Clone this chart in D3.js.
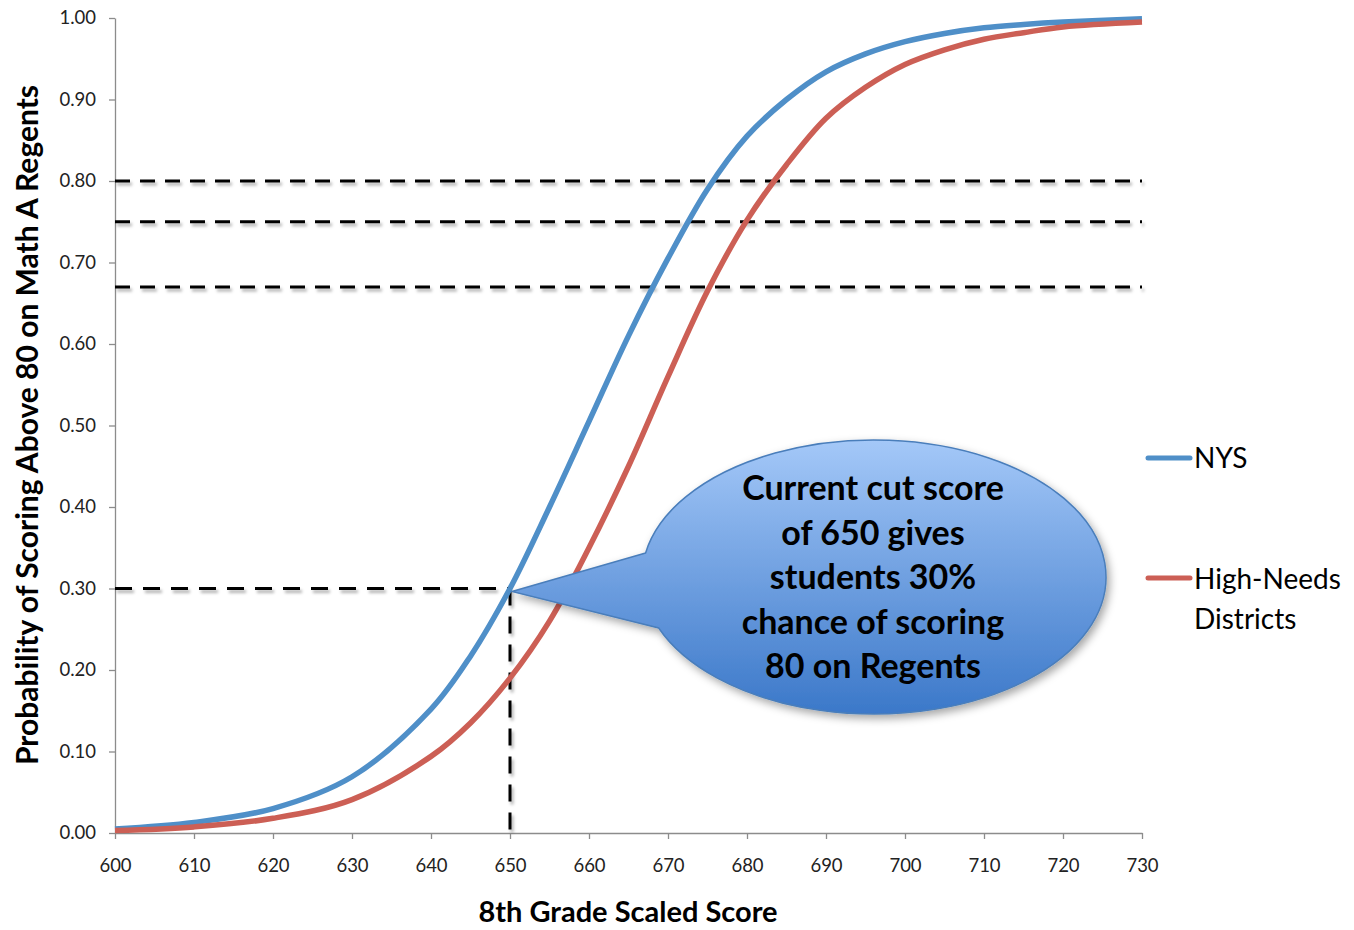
<!DOCTYPE html>
<html>
<head>
<meta charset="utf-8">
<script src="https://cdn.jsdelivr.net/npm/d3@7"></script>
<style>
  body { margin: 0; background: #fff; }
  text { font-family: Lato, "Open Sans", sans-serif; }
</style>
</head>
<body>
<div id="chart"></div>
<script>
// scores on the x axis and the probability read for each curve
const scores = [600, 610, 620, 630, 640, 645, 650, 655, 660, 665, 670, 675, 680, 685, 690, 695, 700, 705, 710, 715, 720, 730];
const nys = [0.005, 0.013, 0.03, 0.069, 0.152, 0.217, 0.30, 0.40, 0.505, 0.61, 0.705, 0.79, 0.855, 0.90, 0.934, 0.956, 0.971, 0.981, 0.988, 0.992, 0.995, 0.999];
const highNeeds = [0.003, 0.0075, 0.018, 0.041, 0.094, 0.135, 0.19, 0.26, 0.35, 0.45, 0.56, 0.665, 0.752, 0.82, 0.877, 0.915, 0.943, 0.961, 0.974, 0.982, 0.989, 0.995];
const refLevels = [0.80, 0.75, 0.67];
const cutScore = 650, cutProb = 0.30;
const xTicks = d3.range(600, 731, 10);
const yTicks = d3.range(0, 1.01, 0.1);
const calloutLines = ["Current cut score", "of 650 gives", "students 30%", "chance of scoring", "80 on Regents"];

const width = 1354, height = 930;
const svg = d3.select("#chart").append("svg")
    .attr("width", width).attr("height", height);

const x = d3.scaleLinear().domain([600, 730]).range([115, 1142]);
const y = d3.scaleLinear().domain([0, 1]).range([833, 18]);

const defs = svg.append("defs");
let shadow = defs.append("filter").attr("id", "dashShadow")
    .attr("x", "-5%").attr("y", "-50%").attr("width", "110%").attr("height", "300%");
shadow.append("feDropShadow").attr("dx", 2).attr("dy", 3).attr("stdDeviation", 1.5)
    .attr("flood-color", "#000").attr("flood-opacity", 0.3);
let bubbleShadow = defs.append("filter").attr("id", "bubbleShadow")
    .attr("x", "-20%").attr("y", "-20%").attr("width", "140%").attr("height", "140%");
bubbleShadow.append("feDropShadow").attr("dx", 3).attr("dy", 4).attr("stdDeviation", 4)
    .attr("flood-color", "#000").attr("flood-opacity", 0.35);
let grad = defs.append("linearGradient").attr("id", "bubbleFill")
    .attr("x1", 0).attr("y1", 0).attr("x2", 0).attr("y2", 1);
grad.append("stop").attr("offset", "0%").attr("stop-color", "#a4c8f8");
grad.append("stop").attr("offset", "100%").attr("stop-color", "#3b78c9");

// axes
svg.append("g").attr("transform", "translate(115,0)")
    .call(d3.axisLeft(y).tickValues(yTicks).tickFormat(d3.format(".2f")).tickSize(6).tickSizeOuter(0).tickPadding(13));
svg.append("g").attr("transform", "translate(0,833)")
    .call(d3.axisBottom(x).tickValues(xTicks).tickFormat(d3.format("d")).tickSize(6).tickSizeOuter(0).tickPadding(20));
svg.selectAll(".domain, .tick line").attr("stroke", "#8c8c8c").attr("stroke-width", 1.3);
svg.selectAll(".tick text").attr("font-size", 18.5).attr("fill", "#222")
    .attr("font-family", "Lato, sans-serif");

// dashed reference lines
const dashG = svg.append("g").attr("filter", "url(#dashShadow)")
    .attr("stroke", "#000").attr("stroke-width", 3).attr("stroke-dasharray", "15,10").attr("fill", "none");
refLevels.forEach(p => {
    dashG.append("line").attr("x1", x(600)).attr("x2", x(730)).attr("y1", y(p)).attr("y2", y(p));
});
dashG.append("line").attr("x1", x(600)).attr("x2", x(cutScore)).attr("y1", y(cutProb)).attr("y2", y(cutProb))
    .attr("stroke-dasharray", "17,11");
dashG.append("line").attr("x1", x(cutScore)).attr("x2", x(cutScore)).attr("y1", y(cutProb)).attr("y2", y(0))
    .attr("stroke-dasharray", "17,11");

// curves
const line = d3.line().curve(d3.curveCatmullRom.alpha(0.5));
svg.append("path").attr("fill", "none").attr("stroke", "#4f8fc8").attr("stroke-width", 5.5)
    .attr("d", line(scores.map((s, i) => [x(s), y(nys[i])])));
svg.append("path").attr("fill", "none").attr("stroke", "#cc5f55").attr("stroke-width", 5.5)
    .attr("d", line(scores.map((s, i) => [x(s), y(highNeeds[i])])));

// callout bubble
const cx = 874, cy = 577, rx = 232, ry = 137;
const tip = [x(cutScore) + 2, y(cutProb) + 3];
function edgeAt(yy) {
    let dy = yy - cy;
    return [cx - rx * Math.sqrt(1 - (dy / ry) * (dy / ry)), yy];
}
const p1 = edgeAt(553), p2 = edgeAt(628);
const bubblePath = `M${p1[0]},${p1[1]} L${tip[0]},${tip[1]} L${p2[0]},${p2[1]} ` +
    `A${rx},${ry} 0 1 0 ${p1[0]},${p1[1]} Z`;
svg.append("path").attr("d", bubblePath).attr("fill", "url(#bubbleFill)")
    .attr("stroke", "#4a7ebb").attr("stroke-width", 1.5).attr("filter", "url(#bubbleShadow)");
svg.append("g").selectAll("text").data(calloutLines).join("text")
    .attr("x", 873).attr("y", (d, i) => 500 + i * 44.5)
    .attr("text-anchor", "middle").attr("font-size", 34).attr("font-weight", "bold")
    .attr("fill", "#000").text(d => d);

// legend
const legend = svg.append("g");
legend.append("line").attr("x1", 1148).attr("x2", 1190).attr("y1", 458).attr("y2", 458)
    .attr("stroke", "#4f8fc8").attr("stroke-width", 5).attr("stroke-linecap", "round");
legend.append("text").attr("x", 1194).attr("y", 468).attr("font-size", 28).text("NYS");
legend.append("line").attr("x1", 1148).attr("x2", 1190).attr("y1", 578).attr("y2", 578)
    .attr("stroke", "#cc5f55").attr("stroke-width", 5).attr("stroke-linecap", "round");
legend.append("text").attr("x", 1194).attr("y", 589).attr("font-size", 28).text("High-Needs");
legend.append("text").attr("x", 1194).attr("y", 629).attr("font-size", 28).text("Districts");

// axis titles
svg.append("text").attr("x", 628).attr("y", 922).attr("text-anchor", "middle")
    .attr("font-size", 29).attr("font-weight", "bold").text("8th Grade Scaled Score");
svg.append("text").attr("transform", "translate(38,425) rotate(-90)").attr("text-anchor", "middle")
    .attr("font-size", 30).attr("font-weight", "bold").text("Probability of Scoring Above 80 on Math A Regents");
</script>
</body>
</html>
